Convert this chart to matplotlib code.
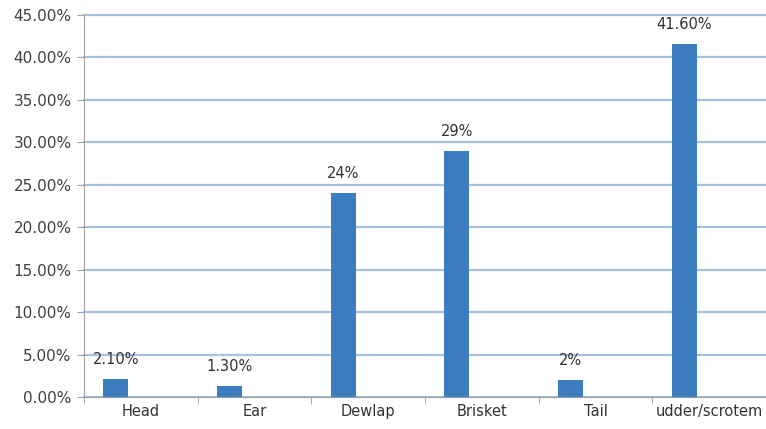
import numpy as np
import matplotlib.pyplot as plt
from matplotlib.ticker import FuncFormatter, MultipleLocator

categories = ["Head", "Ear", "Dewlap", "Brisket", "Tail", "udder/scrotem"]
values = [2.10, 1.30, 24.0, 29.0, 2.0, 41.60]
bar_labels = ["2.10%", "1.30%", "24%", "29%", "2%", "41.60%"]

fig = plt.figure(figsize=(7.66, 4.29), dpi=100)
ax = fig.add_axes([84 / 766, 32 / 429, 682 / 766, 382 / 429])

x = np.arange(len(categories))
# Excel-style cluster: the visible series sits in the first of three slots
slot = 0.22
bars = ax.bar(x - slot, values, width=slot, color="#3c7dbf", zorder=3)

for b, lab in zip(bars, bar_labels):
    ax.text(b.get_x() + b.get_width() / 2, b.get_height() + 1.4, lab,
            ha="center", va="bottom", fontsize=10.5, color="#333333")

ax.set_xlim(-0.5, len(categories) - 0.5)
ax.set_ylim(0, 45)
ax.yaxis.set_major_locator(MultipleLocator(5))
ax.yaxis.set_major_formatter(FuncFormatter(lambda v, p: f"{v:.2f}%"))
ax.grid(axis="y", color="#a9c1dd", linewidth=1.6, zorder=0)
for gl in ax.get_ygridlines():
    gl.set_clip_on(False)
ax.get_ygridlines()[0].set_visible(False)  # keep the gray axis line at 0

ax.set_xticks(x)
ax.set_xticklabels(categories)
ax.set_xticks(np.arange(len(categories) + 1) - 0.5, minor=True)
ax.tick_params(axis="x", which="major", length=0, pad=5, labelsize=10.5,
               colors="#333333")
ax.tick_params(axis="x", which="minor", length=5, color="#a0a0a0")
ax.tick_params(axis="y", length=5, color="#a0a0a0", labelsize=11,
               labelcolor="#404040", pad=4)

for s in ["top", "right"]:
    ax.spines[s].set_visible(False)
ax.spines["left"].set_color("#a0a0a0")
ax.spines["bottom"].set_color("#a0a0a0")
ax.spines["bottom"].set_zorder(4)

fig.savefig("out.png", dpi=100)
